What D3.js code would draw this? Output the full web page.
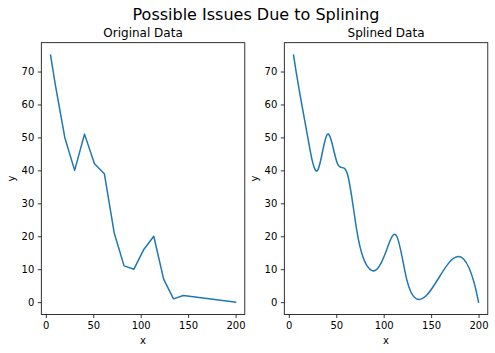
<!DOCTYPE html>
<html>
<head>
<meta charset="utf-8">
<script src="https://cdn.jsdelivr.net/npm/d3@7"></script>
<style>
  body { margin: 0; background: white; }
  svg { font-family: "DejaVu Sans", sans-serif; display: block; }
</style>
</head>
<body>
<svg id="chart" width="495" height="353"></svg>
<script>
// values
const xs = [5, 10, 20, 30.4, 40.8, 51.3, 61.7, 72.1, 82.5, 92.9, 103.3, 113.8, 124.2, 134.6, 145, 200];
const ys = [75, 66, 50, 40, 51, 42, 39, 21, 11, 10, 16, 20, 7, 1, 2, 0];
const xTicks = [0, 50, 100, 150, 200];
const yTicks = [0, 10, 20, 30, 40, 50, 60, 70];
const titles = ["Original Data", "Splined Data"];

const points = xs.map((x, i) => ({x: x, y: ys[i]}));

// cubic spline y(x) (not-a-knot ends), drawn as bezier pieces
function splineCurve(context) {
  let px = [], py = [];
  return {
    areaStart() {}, areaEnd() {},
    lineStart() { px = []; py = []; },
    point(x, y) { px.push(+x); py.push(+y); },
    lineEnd() {
      const n = px.length;
      const h = d3.range(n - 1).map(i => px[i + 1] - px[i]);
      // system for second derivatives
      const A = d3.range(n).map(() => new Array(n).fill(0));
      const b = new Array(n).fill(0);
      for (let i = 1; i < n - 1; i++) {
        A[i][i - 1] = h[i - 1];
        A[i][i] = 2 * (h[i - 1] + h[i]);
        A[i][i + 1] = h[i];
        b[i] = 6 * ((py[i + 1] - py[i]) / h[i] - (py[i] - py[i - 1]) / h[i - 1]);
      }
      A[0][0] = h[1]; A[0][1] = -(h[0] + h[1]); A[0][2] = h[0];
      A[n - 1][n - 3] = h[n - 2]; A[n - 1][n - 2] = -(h[n - 3] + h[n - 2]); A[n - 1][n - 1] = h[n - 3];
      const M = solve(A, b);
      context.moveTo(px[0], py[0]);
      for (let i = 0; i < n - 1; i++) {
        const d = (py[i + 1] - py[i]) / h[i];
        const s0 = d - h[i] * (2 * M[i] + M[i + 1]) / 6;
        const s1 = d + h[i] * (M[i] + 2 * M[i + 1]) / 6;
        context.bezierCurveTo(px[i] + h[i] / 3, py[i] + s0 * h[i] / 3,
                              px[i + 1] - h[i] / 3, py[i + 1] - s1 * h[i] / 3,
                              px[i + 1], py[i + 1]);
      }
    }
  };
}

function solve(A, b) {
  const n = b.length;
  A = A.map(r => r.slice()); b = b.slice();
  for (let c = 0; c < n; c++) {
    let p = c;
    for (let r = c + 1; r < n; r++) if (Math.abs(A[r][c]) > Math.abs(A[p][c])) p = r;
    [A[c], A[p]] = [A[p], A[c]]; [b[c], b[p]] = [b[p], b[c]];
    for (let r = c + 1; r < n; r++) {
      const f = A[r][c] / A[c][c];
      for (let k = c; k < n; k++) A[r][k] -= f * A[c][k];
      b[r] -= f * b[c];
    }
  }
  const x = new Array(n).fill(0);
  for (let r = n - 1; r >= 0; r--) {
    let s = b[r];
    for (let k = r + 1; k < n; k++) s -= A[r][k] * x[k];
    x[r] = s / A[r][r];
  }
  return x;
}

const svg = d3.select("#chart");

svg.append("text")
  .attr("x", 256).attr("y", 19.5)
  .attr("text-anchor", "middle")
  .style("font-size", "16px")
  .text("Possible Issues Due to Splining");

const panels = [{left: 41.3, curve: d3.curveLinear}, {left: 284.3, curve: splineCurve}];
const pw = 203.5, plotTop = 42.7, plotBottom = 314.5;

const xPad = (200 - 5) * 0.05, yPad = 75 * 0.05;

panels.forEach((p, k) => {
  const x = d3.scaleLinear().domain([5 - xPad, 200 + xPad]).range([p.left, p.left + pw]);
  const y = d3.scaleLinear().domain([0 - yPad, 75 + yPad]).range([plotBottom, plotTop]);
  const g = svg.append("g");

  const line = d3.line().x(d => x(d.x)).y(d => y(d.y)).curve(p.curve);
  g.append("path").datum(points)
    .attr("d", line)
    .attr("fill", "none")
    .attr("stroke", "#1f77b4")
    .attr("stroke-width", 1.5)
    .attr("stroke-linejoin", "round")
    .attr("stroke-linecap", "square");

  const xAxis = g.append("g").attr("transform", `translate(0,${plotBottom})`)
    .call(d3.axisBottom(x).tickValues(xTicks).tickSize(3.5).tickPadding(3.5).tickFormat(d3.format("d")));
  const yAxis = g.append("g").attr("transform", `translate(${p.left},0)`)
    .call(d3.axisLeft(y).tickValues(yTicks).tickSize(3.5).tickPadding(3.5).tickFormat(d3.format("d")));
  [xAxis, yAxis].forEach(a => {
    a.select(".domain").remove();
    a.selectAll("line").attr("stroke", "black").attr("stroke-width", 0.8);
    a.selectAll("text").attr("fill", "black").style("font-size", "10px").attr("font-family", "DejaVu Sans");
  });

  g.append("rect")
    .attr("x", p.left).attr("y", plotTop)
    .attr("width", pw).attr("height", plotBottom - plotTop)
    .attr("fill", "none").attr("stroke", "black").attr("stroke-width", 0.8);

  g.append("text")
    .attr("x", p.left + pw / 2).attr("y", plotTop - 6)
    .attr("text-anchor", "middle")
    .style("font-size", "12px")
    .text(titles[k]);

  g.append("text")
    .attr("x", p.left + pw / 2).attr("y", 344)
    .attr("text-anchor", "middle")
    .style("font-size", "10px")
    .text("x");

  g.append("text")
    .attr("transform", `translate(${p.left - 26},${(plotTop + plotBottom) / 2}) rotate(-90)`)
    .attr("text-anchor", "middle")
    .style("font-size", "10px")
    .text("y");
});
</script>
</body>
</html>
